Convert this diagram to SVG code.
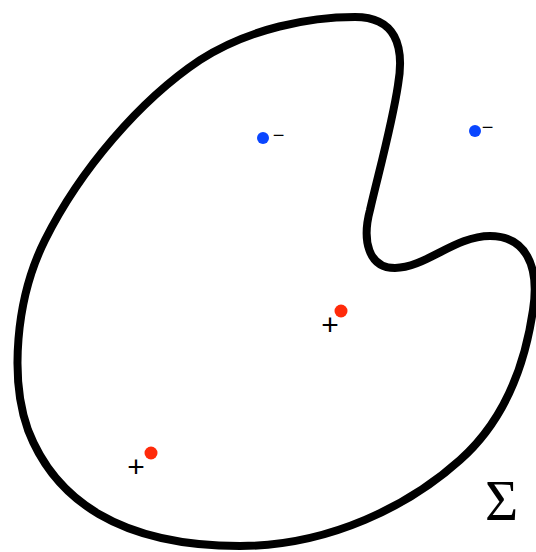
<svg xmlns="http://www.w3.org/2000/svg" width="536" height="552" viewBox="0 0 536 552">
<style>
.outline{fill:none;stroke:#000;stroke-width:8;stroke-linejoin:round}
.neg{fill:#0a46ff}
.pos{fill:#ff2a0a}
.sign{font-family:"Liberation Sans",Arial,sans-serif;fill:#000;text-anchor:middle}
.sym{font-family:"Liberation Serif","Times New Roman",serif;font-size:57px;fill:#000}
</style>
<rect width="536" height="552" fill="#fff"/>
<g id="surface">
<path class="outline" d="M 355,17 C 395,17 405,45 398,85 C 392,125 378,175 370,210 C 362,240 368,268 395,268 C 425,268 455,236 490,236 C 525,236 540,265 533,310 C 525,365 505,420 460,460 C 410,505 330,546 240,546 C 120,546 55,500 28,430 C 10,380 15,300 45,240 C 80,170 140,100 200,60 C 250,28 310,17 355,17 Z"/>
</g>
<g id="charge1">
<circle class="neg" cx="263" cy="138" r="6"/>
<text class="sign" x="278.5" y="141.5" font-size="20">−</text>
</g>
<g id="charge2">
<circle class="neg" cx="475" cy="131" r="6"/>
<text class="sign" x="487.5" y="133.5" font-size="20">−</text>
</g>
<g id="charge3">
<circle class="pos" cx="341" cy="311" r="6.5"/>
<text class="sign" x="330" y="334.5" font-size="30">+</text>
</g>
<g id="charge4">
<circle class="pos" cx="151" cy="453" r="6.5"/>
<text class="sign" x="136" y="476.5" font-size="30">+</text>
</g>
<g id="label">
<text class="sym" x="485" y="520">Σ</text>
</g>
</svg>
